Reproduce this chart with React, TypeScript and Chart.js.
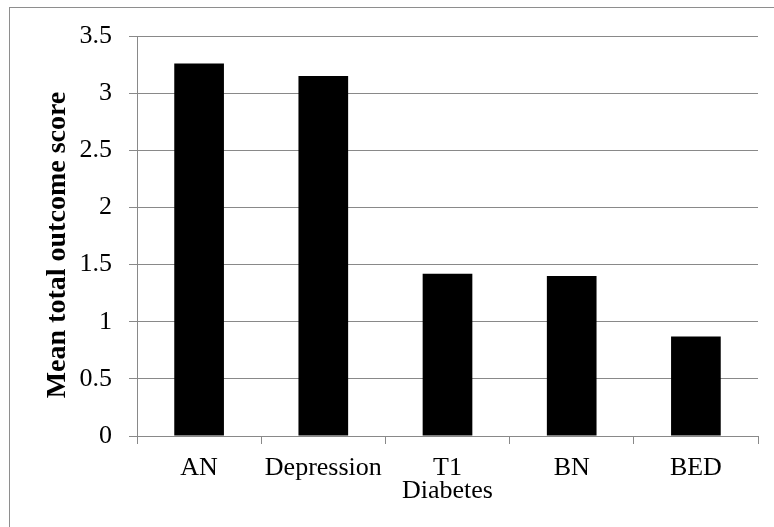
import React, { useEffect, useRef } from "react";
import { Chart, registerables } from "chart.js";

Chart.register(...registerables);

// Categories (third label wraps onto two lines)
const categories: (string | string[])[] = ["AN", "Depression", ["T1", "Diabetes"], "BN", "BED"];
// Mean total outcome score per group
const meanScores: number[] = [3.26, 3.15, 1.42, 1.40, 0.87];
// Value axis range
const yMin = 0;
const yMax = 3.5;
const yStep = 0.5;
const yTitle = "Mean total outcome score";

const SERIF = "'Times New Roman', 'Liberation Serif', serif";
const GRID = "#898989";

// Light grey frame around the whole figure
const framePlugin = {
  id: "outerFrame",
  beforeDraw(chart: Chart) {
    const ctx = chart.ctx;
    ctx.save();
    ctx.strokeStyle = "#8e8e8e";
    ctx.lineWidth = 1;
    ctx.strokeRect(9.5, 7.5, 1000, 1000);
    ctx.restore();
  },
};

// Rotated value-axis title, sitting slightly below the plot's vertical centre
const yTitlePlugin = {
  id: "yTitle",
  afterDraw(chart: Chart) {
    const { ctx, chartArea } = chart;
    ctx.save();
    ctx.translate(58, (chartArea.top + chartArea.bottom) / 2 + 9);
    ctx.rotate(-Math.PI / 2);
    ctx.font = `bold 28px ${SERIF}`;
    ctx.fillStyle = "#000";
    ctx.textAlign = "center";
    ctx.textBaseline = "middle";
    ctx.fillText(yTitle, 0, 0);
    ctx.restore();
  },
};

export default function App() {
  const canvasRef = useRef<HTMLCanvasElement | null>(null);

  useEffect(() => {
    if (!canvasRef.current) return;
    const chart = new Chart(canvasRef.current, {
      type: "bar",
      data: {
        labels: categories,
        datasets: [
          {
            data: meanScores,
            backgroundColor: "#000000",
            borderWidth: 0,
            categoryPercentage: 1,
            barPercentage: 0.4,
          },
        ],
      },
      options: {
        animation: false,
        responsive: false,
        maintainAspectRatio: false,
        layout: { padding: { left: 0, top: 36, right: 16, bottom: 11 } },
        plugins: { legend: { display: false }, tooltip: { enabled: false } },
        scales: {
          x: {
            grid: {
              drawOnChartArea: false,
              drawTicks: true,
              tickLength: 8,
              color: GRID,
              offset: true,
            },
            border: { color: GRID, width: 1 },
            ticks: {
              color: "#000",
              font: { family: SERIF, size: 26, lineHeight: 0.9 },
              maxRotation: 0,
              autoSkip: false,
              padding: 12,
            },
            afterFit: (scale: any) => {
              scale.height = 80;
            },
          },
          y: {
            min: yMin,
            max: yMax,
            grid: { color: GRID, tickLength: 8, drawTicks: true },
            border: { color: GRID, width: 1 },
            ticks: {
              stepSize: yStep,
              color: "#000",
              font: { family: SERIF, size: 26 },
              padding: 17,
              callback: (v: any) => String(Number(v)),
            },
            afterFit: (scale: any) => {
              scale.width = 137;
            },
          },
        },
      },
      plugins: [framePlugin, yTitlePlugin],
    });
    return () => chart.destroy();
  }, []);

  return (
    <div style={{ position: "fixed", left: 0, top: 0, width: 774, height: 527, background: "#fff" }}>
      <canvas ref={canvasRef} width={774} height={527} style={{ display: "block" }} />
    </div>
  );
}
